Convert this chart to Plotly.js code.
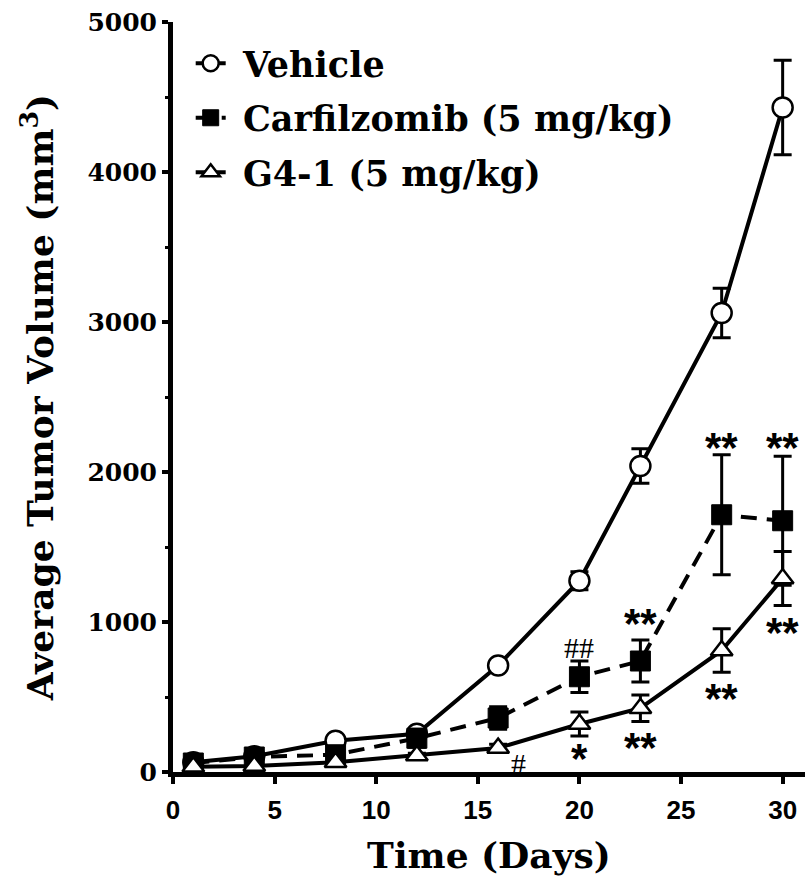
<!DOCTYPE html>
<html>
<head>
<meta charset="utf-8">
<script src="https://cdn.plot.ly/plotly-3.0.1.min.js"></script>
<style>html,body{margin:0;padding:0;background:#fff;}#chart{width:805px;height:882px;}</style>
</head>
<body>
<div id="chart"></div>
<script>
// ---- data ----
var days = [1, 4, 8, 12, 16, 20, 23, 27, 30];
var vehicle    = [65, 105, 208, 255, 710, 1275, 2040, 3060, 4430];
var vehicleErr = [5, 10, 15, 20, 30, 60, 115, 165, 315];
var carfilzomib    = [60, 100, 115, 225, 360, 635, 740, 1715, 1675];
var carfilzomibErr = [5, 10, 15, 60, 75, 105, 140, 400, 430];
var g41    = [35, 40, 65, 110, 160, 320, 425, 810, 1290];
var g41Err = [5, 5, 10, 15, 25, 80, 88, 145, 180];
var seriesNames = ['Vehicle', 'Carfilzomib (5 mg/kg)', 'G4-1 (5 mg/kg)'];
var xTickVals = [0, 5, 10, 15, 20, 25, 30];
var yTickVals = [0, 1000, 2000, 3000, 4000, 5000];

var serif = 'DejaVu Serif';
var sans = 'Liberation Sans';

function errBar(arr) {
  return {type: 'data', array: arr, visible: true, color: '#000', thickness: 3, width: 9};
}

var traces = [
  {
    x: days, y: vehicle, name: '\u00a0' + seriesNames[0], mode: 'lines+markers', type: 'scatter',
    legendgroup: 'a', cliponaxis: false,
    line: {color: '#000', width: 4},
    marker: {symbol: 'circle', size: 20, color: '#fff', line: {color: '#000', width: 2.5}},
    error_y: errBar(vehicleErr)
  },
  {
    x: days, y: carfilzomib, name: '\u00a0' + seriesNames[1], mode: 'lines+markers', type: 'scatter',
    legendgroup: 'b', cliponaxis: false,
    line: {color: '#000', width: 4, dash: '16px,10px'},
    marker: {symbol: 'square', size: 20, color: '#000', line: {color: '#000', width: 1}},
    error_y: errBar(carfilzomibErr)
  },
  {
    x: days, y: g41, name: '\u00a0' + seriesNames[2], mode: 'lines+markers', type: 'scatter',
    legendgroup: 'c', cliponaxis: false,
    line: {color: '#000', width: 4},
    marker: {symbol: 'triangle-up', size: 19, color: '#fff', line: {color: '#000', width: 2.5}},
    error_y: errBar(g41Err)
  }
];

function note(text, x, y, yshift, xshift, kind) {
  var isStar = kind === 'star';
  return {
    x: x, y: y, xref: 'x', yref: 'y', text: text, showarrow: false,
    xanchor: 'center', yanchor: 'middle',
    yshift: yshift, xshift: xshift || 0,
    font: isStar ? {family: sans, size: 42, color: '#000', weight: 'bold'}
                 : {family: 'Liberation Serif', size: 30, color: '#000'}
  };
}

var annotations = [
  note('#', days[4], g41[4], -15, 20, 'hash'),
  note('##', days[5], carfilzomib[5] + carfilzomibErr[5], 14, 0, 'hash'),
  note('*', days[5], g41[5] - g41Err[5], -22, 0, 'star'),
  note('**', days[6], carfilzomib[6] + carfilzomibErr[6], 17, 0, 'star'),
  note('**', days[6], g41[6] - g41Err[6], -26, 0, 'star'),
  note('**', days[7], carfilzomib[7] + carfilzomibErr[7], 7, 0, 'star'),
  note('**', days[7], g41[7] - g41Err[7], -26, 0, 'star'),
  note('**', days[8], carfilzomib[8] + carfilzomibErr[8], 9, 0, 'star'),
  note('**', days[8], g41[8] - g41Err[8], -27, 0, 'star')
];

var layout = {
  width: 805, height: 882,
  margin: {l: 173, r: 0, t: 22, b: 110},
  paper_bgcolor: '#fff', plot_bgcolor: '#fff',
  showlegend: true,
  legend: {
    x: 0.028, y: 0.984, xanchor: 'left', yanchor: 'top',
    bgcolor: 'rgba(0,0,0,0)', borderwidth: 0,
    font: {family: serif, size: 35, color: '#000', weight: 'bold'},
    itemwidth: 30, tracegroupgap: 6,
    traceorder: 'grouped'
  },
  xaxis: {
    range: [0, 31.1], showgrid: false, zeroline: false,
    showline: true, linecolor: '#000', linewidth: 5,
    ticks: 'outside', ticklen: 7, tickwidth: 4, tickcolor: '#000',
    tickvals: xTickVals, ticktext: xTickVals.map(String),
    ticklabelstandoff: 4,
    tickfont: {family: sans, size: 26, color: '#000', weight: 'bold'},
    title: {text: 'Time (Days)', font: {family: serif, size: 36, color: '#000', weight: 'bold'}, standoff: 20}
  },
  yaxis: {
    range: [0, 5000], showgrid: false, zeroline: false,
    showline: true, linecolor: '#000', linewidth: 5,
    ticks: 'outside', ticklen: 6, tickwidth: 4, tickcolor: '#000',
    tickvals: yTickVals, ticktext: yTickVals.map(String),
    minor: {dtick: 500, ticks: 'outside', ticklen: 3, tickwidth: 3, tickcolor: '#000', showgrid: false},
    tickfont: {family: serif, size: 25, color: '#000', weight: 'bold'},
    title: {text: 'Average Tumor Volume (mm<sup>3</sup>)', font: {family: serif, size: 36, color: '#000', weight: 'bold'}, standoff: 24}
  },
  annotations: annotations
};

Plotly.newPlot('chart', traces, layout, {staticPlot: true, displayModeBar: false});
</script>
</body>
</html>
